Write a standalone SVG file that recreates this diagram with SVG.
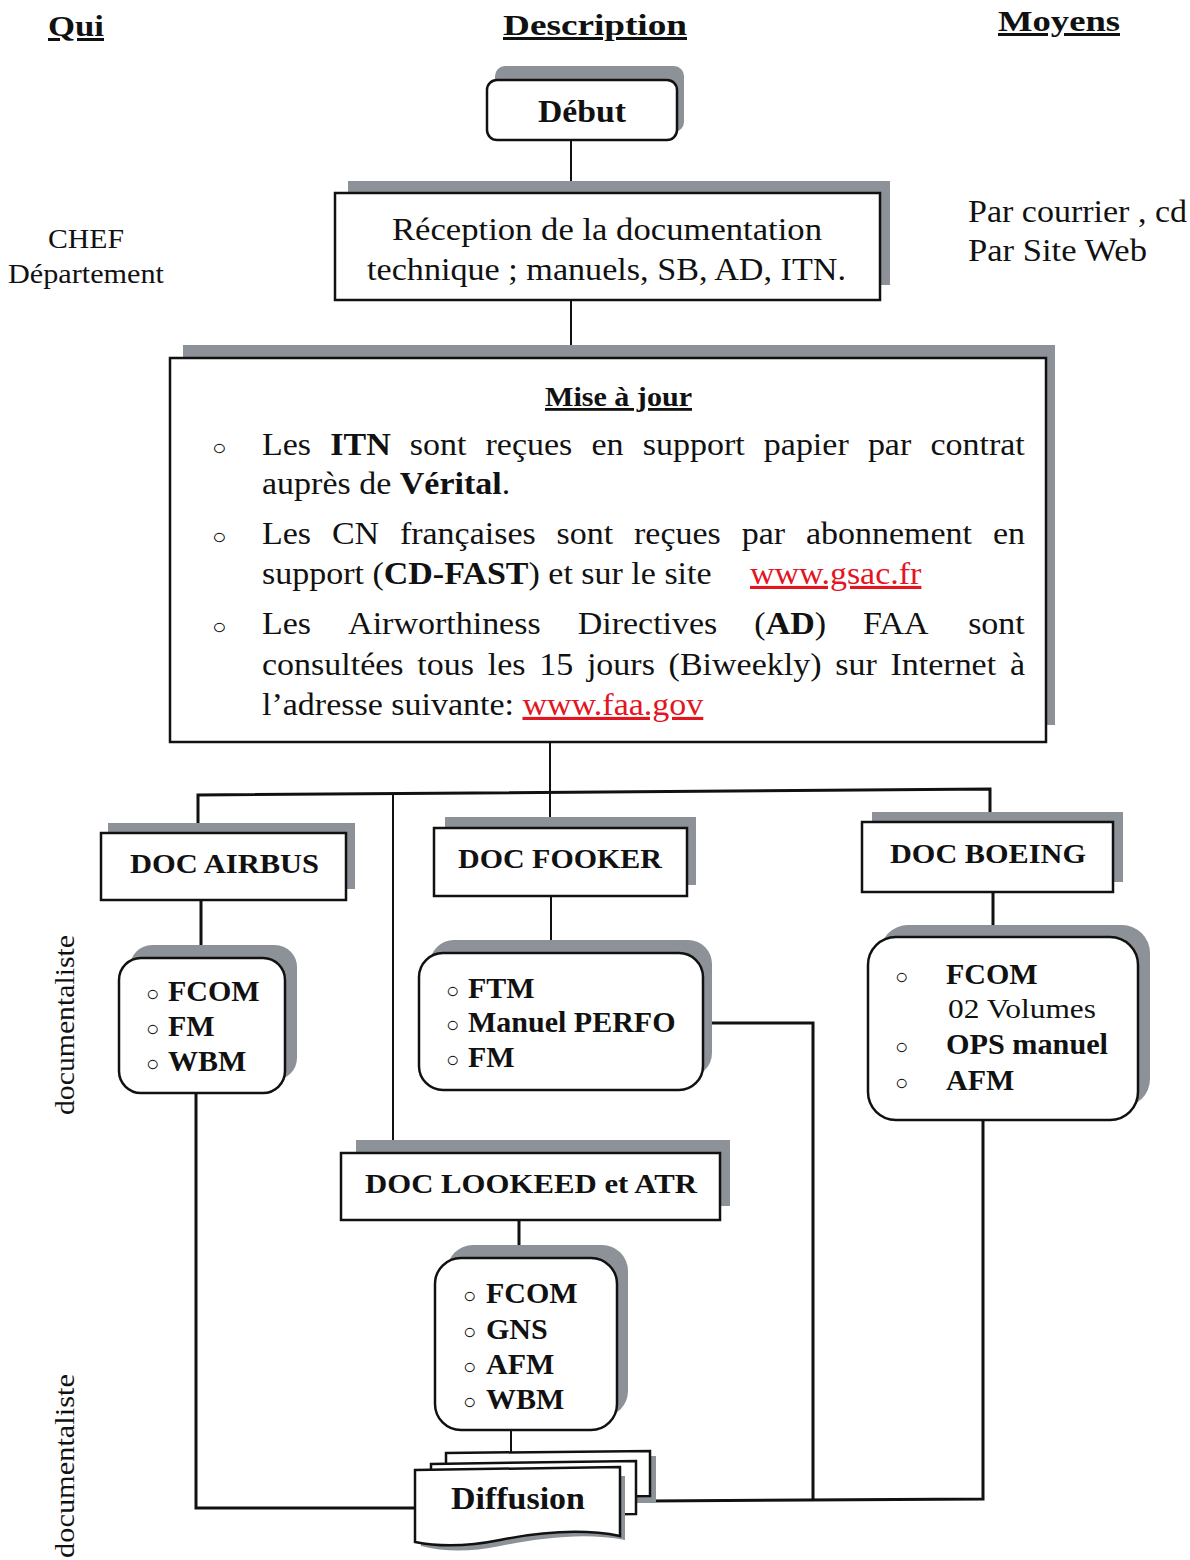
<svg xmlns="http://www.w3.org/2000/svg" width="1190" height="1560" viewBox="0 0 1190 1560">
  <style>
    .t { font-family: "Liberation Serif", "Times New Roman", serif; fill: #111; }
    .b { font-weight: bold; }
    .hd { font-family: "Liberation Serif", serif; font-weight: bold; font-size: 30px; text-decoration: underline; fill: #111; }
    .box { fill: #fff; stroke: #111; stroke-width: 2.5; }
    .sh { fill: #8c9298; }
    .ln { fill: none; stroke: #111; stroke-width: 3; }
    .lnt { fill: none; stroke: #111; stroke-width: 2; }
    .red { fill: #e3151f; text-decoration: underline; }
    .body { font-size: 31px; }
    .lst { font-size: 30px; font-weight: bold; }
    .bul { font-size: 22px; font-weight: normal; }
  </style>

  <!-- column headers -->
  <text class="hd" x="48" y="36" textLength="56" lengthAdjust="spacingAndGlyphs">Qui</text>
  <text class="hd" x="503" y="35" textLength="184" lengthAdjust="spacingAndGlyphs">Description</text>
  <text class="hd" x="998" y="31" textLength="122" lengthAdjust="spacingAndGlyphs">Moyens</text>

  <!-- side labels -->
  <text class="t" x="48" y="248" font-size="28" textLength="76" lengthAdjust="spacingAndGlyphs">CHEF</text>
  <text class="t" x="8" y="283" font-size="28" textLength="156" lengthAdjust="spacingAndGlyphs">Département</text>
  <text class="t" x="968" y="222" font-size="31" textLength="219" lengthAdjust="spacingAndGlyphs">Par courrier , cd</text>
  <text class="t" x="968" y="261" font-size="31" textLength="179" lengthAdjust="spacingAndGlyphs">Par Site Web</text>
  <text class="t" font-size="28" transform="translate(74 1115) rotate(-90)" textLength="180" lengthAdjust="spacingAndGlyphs">documentaliste</text>
  <text class="t" font-size="28" transform="translate(74 1558) rotate(-90)" textLength="184" lengthAdjust="spacingAndGlyphs">documentaliste</text>

  <!-- connectors -->
  <g id="connectors">
    <line class="lnt" x1="571" y1="140" x2="571" y2="193"/>
    <line class="lnt" x1="571" y1="300" x2="571" y2="358"/>
    <line class="lnt" x1="550" y1="742" x2="550" y2="792"/>
    <polyline class="ln" points="198,833 198,795 990,789 990,822"/>
    <line class="lnt" x1="550" y1="792" x2="550" y2="828"/>
    <line class="lnt" x1="393" y1="794" x2="393" y2="1141"/>
    <line class="ln" x1="201" y1="900" x2="201" y2="958"/>
    <line class="lnt" x1="551" y1="896" x2="551" y2="953"/>
    <line class="ln" x1="993" y1="892" x2="993" y2="937"/>
    <line class="ln" x1="519" y1="1220" x2="519" y2="1258"/>
    <line class="lnt" x1="511" y1="1430" x2="511" y2="1456"/>
    <polyline class="ln" points="196,1093 196,1508 415,1508"/>
    <polyline class="ln" points="703,1023 813,1023 813,1499"/>
    <polyline class="ln" points="650,1501 983,1499 983,1120"/>
  </g>

  <!-- Début -->
  <g id="debut">
    <rect class="sh" x="495" y="66" width="189" height="66" rx="10"/>
    <rect class="box" x="487" y="80" width="190" height="60" rx="10"/>
    <text class="t b" x="538" y="122" font-size="31" textLength="88" lengthAdjust="spacingAndGlyphs">Début</text>
  </g>

  <!-- Réception -->
  <g id="reception">
    <rect class="sh" x="348" y="181" width="542" height="104"/>
    <rect class="box" x="335" y="193" width="545" height="107"/>
    <text class="t" x="392" y="240" font-size="31" textLength="430" lengthAdjust="spacingAndGlyphs">Réception  de la documentation</text>
    <text class="t" x="367" y="280" font-size="31" textLength="479" lengthAdjust="spacingAndGlyphs">technique ; manuels, SB, AD, ITN.</text>
  </g>

  <!-- Mise à jour: justified paragraph, words placed on a slightly widened text run -->
  <g id="mise-a-jour">
    <rect class="sh" x="183" y="345" width="872" height="380"/>
    <rect class="box" x="170" y="358" width="876" height="384"/>
    <text class="t b" x="545" y="406" font-size="28" text-decoration="underline" textLength="147" lengthAdjust="spacingAndGlyphs">Mise à jour</text>
    <g class="t body" transform="scale(1.0968 1)">
      <text class="bul" x="193.3" y="455">○</text>
      <text class="bul" x="193.3" y="544">○</text>
      <text class="bul" x="193.3" y="634">○</text>
      <text y="455"><tspan x="238.9">Les</tspan><tspan x="301.1" class="b">ITN</tspan><tspan x="373.6">sont</tspan><tspan x="442.7">reçues</tspan><tspan x="539.3">en</tspan><tspan x="586">support</tspan><tspan x="696.4">papier</tspan><tspan x="791.3">par</tspan><tspan x="848.3">contrat</tspan></text>
      <text x="238.9" y="494">auprès de <tspan class="b">Vérital</tspan>.</text>
      <text y="544"><tspan x="238.9">Les</tspan><tspan x="302.6">CN</tspan><tspan x="364.6">françaises</tspan><tspan x="507.5">sont</tspan><tspan x="578.1">reçues</tspan><tspan x="676.2">par</tspan><tspan x="734.8">abonnement</tspan><tspan x="905.3">en</tspan></text>
      <text x="238.9" y="584">support (<tspan class="b">CD-FAST</tspan>) et sur le site</text>
      <text class="red" x="683.8" y="584">www.gsac.fr</text>
      <text y="634"><tspan x="238.9">Les</tspan><tspan x="317.4">Airworthiness</tspan><tspan x="526.7">Directives</tspan><tspan x="687.8">(<tspan class="b">AD</tspan>)</tspan><tspan x="786.9">FAA</tspan><tspan x="882.7">sont</tspan></text>
      <text y="675"><tspan x="238.9">consultées</tspan><tspan x="380.5">tous</tspan><tspan x="444.7">les</tspan><tspan x="491.6">15</tspan><tspan x="535.1">jours</tspan><tspan x="609.6">(Biweekly)</tspan><tspan x="761.6">sur</tspan><tspan x="811.9">Internet</tspan><tspan x="920.8">à</tspan></text>
      <text x="238.9" y="715">l’adresse suivante: <tspan class="red">www.faa.gov</tspan></text>
    </g>
  </g>

  <!-- DOC AIRBUS -->
  <g id="doc-airbus">
    <rect class="sh" x="108" y="823" width="247" height="66"/>
    <rect class="box" x="101" y="833" width="245" height="67"/>
    <text class="t b" x="130" y="873" font-size="28" textLength="189" lengthAdjust="spacingAndGlyphs">DOC AIRBUS</text>
  </g>

  <!-- DOC FOOKER -->
  <g id="doc-fooker">
    <rect class="sh" x="445" y="817" width="251" height="68"/>
    <rect class="box" x="434" y="828" width="253" height="68"/>
    <text class="t b" x="458" y="868" font-size="28" textLength="204" lengthAdjust="spacingAndGlyphs">DOC FOOKER</text>
  </g>

  <!-- DOC BOEING -->
  <g id="doc-boeing">
    <rect class="sh" x="872" y="812" width="251" height="70"/>
    <rect class="box" x="862" y="822" width="251" height="70"/>
    <text class="t b" x="890" y="863" font-size="28" textLength="196" lengthAdjust="spacingAndGlyphs">DOC BOEING</text>
  </g>

  <!-- Airbus manuals -->
  <g id="list-airbus">
    <rect class="sh" x="130" y="945" width="167" height="135" rx="22"/>
    <rect class="box" x="119" y="958" width="166" height="135" rx="22"/>
    <g class="t lst">
      <text x="146" y="1001"><tspan class="bul">○</tspan><tspan x="168">FCOM</tspan></text>
      <text x="146" y="1036"><tspan class="bul">○</tspan><tspan x="168">FM</tspan></text>
      <text x="146" y="1071"><tspan class="bul">○</tspan><tspan x="168">WBM</tspan></text>
    </g>
  </g>

  <!-- Fooker manuals -->
  <g id="list-fooker">
    <rect class="sh" x="430" y="940" width="282" height="137" rx="24"/>
    <rect class="box" x="419" y="953" width="284" height="137" rx="24"/>
    <g class="t lst">
      <text x="446" y="998"><tspan class="bul">○</tspan><tspan x="468">FTM</tspan></text>
      <text x="446" y="1032"><tspan class="bul">○</tspan><tspan x="468">Manuel PERFO</tspan></text>
      <text x="446" y="1067"><tspan class="bul">○</tspan><tspan x="468">FM</tspan></text>
    </g>
  </g>

  <!-- Boeing manuals -->
  <g id="list-boeing">
    <rect class="sh" x="880" y="925" width="270" height="182" rx="28"/>
    <rect class="box" x="868" y="937" width="270" height="183" rx="28"/>
    <g class="t lst">
      <text class="bul" x="895" y="984">○</text>
      <text x="946" y="984">FCOM</text>
      <text x="948" y="1018" font-weight="normal" font-size="28" textLength="148" lengthAdjust="spacingAndGlyphs">02 Volumes</text>
      <text class="bul" x="895" y="1054">○</text>
      <text x="946" y="1054" textLength="162" lengthAdjust="spacingAndGlyphs">OPS manuel</text>
      <text class="bul" x="895" y="1090">○</text>
      <text x="946" y="1090">AFM</text>
    </g>
  </g>

  <!-- DOC LOOKEED et ATR -->
  <g id="doc-lookeed">
    <rect class="sh" x="356" y="1140" width="374" height="66"/>
    <rect class="box" x="341" y="1153" width="379" height="67"/>
    <text class="t b" x="365" y="1193" font-size="28" textLength="332" lengthAdjust="spacingAndGlyphs">DOC LOOKEED et ATR</text>
  </g>

  <!-- Lookeed / ATR manuals -->
  <g id="list-lookeed">
    <rect class="sh" x="447" y="1245" width="181" height="172" rx="26"/>
    <rect class="box" x="435" y="1258" width="182" height="172" rx="26"/>
    <g class="t lst">
      <text x="463" y="1303"><tspan class="bul">○</tspan><tspan x="486">FCOM</tspan></text>
      <text x="463" y="1339"><tspan class="bul">○</tspan><tspan x="486">GNS</tspan></text>
      <text x="463" y="1374"><tspan class="bul">○</tspan><tspan x="486">AFM</tspan></text>
      <text x="463" y="1409"><tspan class="bul">○</tspan><tspan x="486">WBM</tspan></text>
    </g>
  </g>

  <!-- Diffusion (multi-document) -->
  <g id="diffusion">
    <path class="sh" d="M452,1456 H656 V1503 H452 Z"/>
    <path class="box" stroke-width="2" d="M446,1453 L650,1451 V1496 L446,1498 Z"/>
    <path class="box" stroke-width="2" d="M431,1464 L636,1461 V1514 L431,1516 Z"/>
    <path class="sh" d="M421,1476 H625 V1540 C585,1532 540,1538 500,1546 C470,1552 445,1552 421,1546 Z"/>
    <path class="box" stroke-width="2" d="M415,1470 L620,1467 V1536 C580,1528 540,1532 500,1540 C465,1547 440,1547 415,1542 Z"/>
    <text class="t b" x="451" y="1509" font-size="31" textLength="134" lengthAdjust="spacingAndGlyphs">Diffusion</text>
  </g>
</svg>
